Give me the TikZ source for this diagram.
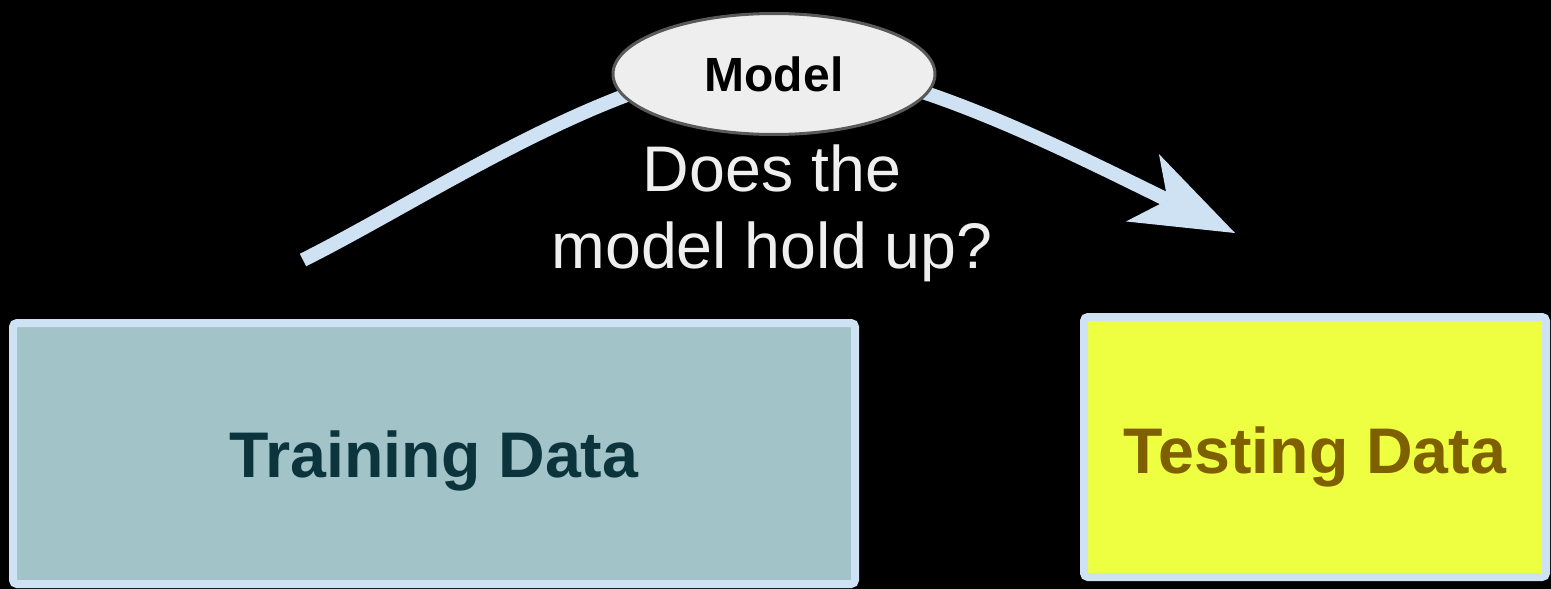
\documentclass[tikz,border=0pt]{standalone}
\usepackage{fontspec}
\setmainfont{Liberation Sans}
\usetikzlibrary{shapes.geometric,arrows.meta}
\definecolor{flowblue}{HTML}{CFE2F3}
\definecolor{modelfill}{HTML}{EEEEEE}
\definecolor{modeledge}{HTML}{595959}
\definecolor{trainfill}{HTML}{A2C4C9}
\definecolor{traintext}{HTML}{0C343D}
\definecolor{testfill}{HTML}{EEFF41}
\definecolor{testtext}{HTML}{7F6000}
\definecolor{qtext}{HTML}{EFEFEF}
\begin{document}
\begin{tikzpicture}[x=1pt,y=-1pt,
  databox/.style={draw=flowblue, line width=8pt, rounded corners=4pt, inner sep=0pt, text depth=13pt, font=\fontsize{64.5}{77}\selectfont\bfseries},
  flow/.style={draw=flowblue, line width=14pt},
  modelnode/.style={ellipse, fill=modelfill, draw=modeledge, line width=3pt, minimum width=322pt, minimum height=121pt, inner sep=0pt, font=\fontsize{48}{56}\selectfont\bfseries},
  question/.style={text=qtext, align=center, inner sep=0pt, font=\fontsize{64.5}{77}\selectfont}]
\fill[black] (0,0) rectangle (1551,589);
\useasboundingbox (0,0) rectangle (1551,589);
\node[databox, fill=trainfill, text=traintext, text height=60pt, minimum width=842pt, minimum height=261pt] (train) at (434,453.5) {Training Data};
\node[databox, fill=testfill, text=testtext, text height=66pt, minimum width=462pt, minimum height=260pt] (test) at (1315,447) {Testing Data};
\coordinate (start) at (303,260);
\coordinate (apex) at (775,63);
\coordinate (tip) at (1235,233);
\draw[flow, -{Stealth[length=103pt,width=75pt,inset=28pt,line width=0pt]}] (start) .. controls (433,195) and (625,63) .. (apex) .. controls (895,63) and (1055,145) .. (tip);
\node[modelnode] (model) at (774,74) {Model};
\node[question] (q) at (772,213) {Does the\\model hold up?};
\end{tikzpicture}
\end{document}
